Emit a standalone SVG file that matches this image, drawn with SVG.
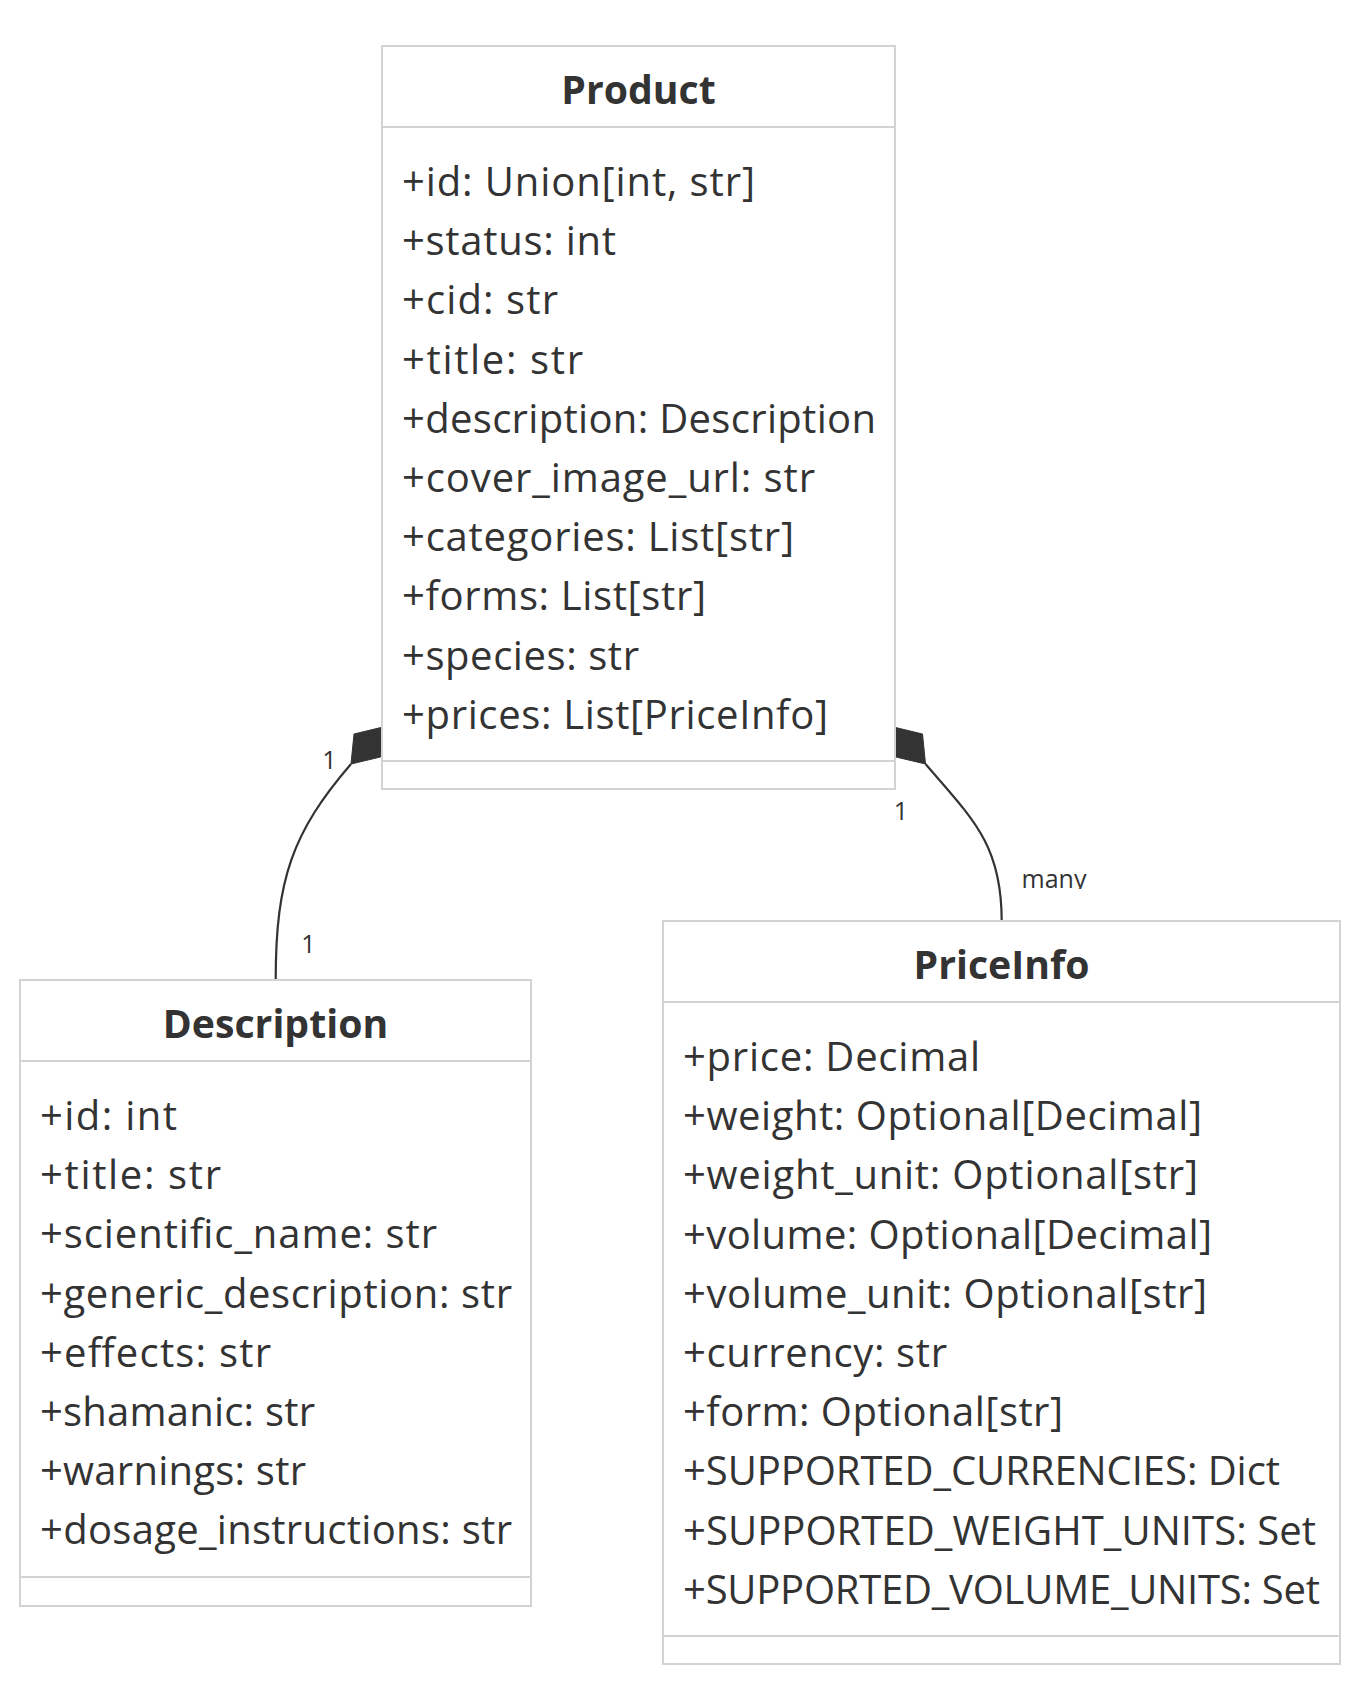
<svg xmlns="http://www.w3.org/2000/svg" width="1360" height="1688" viewBox="0 0 1360 1688">
  <style>
    .box { fill: #ffffff; stroke: #d3d3d3; stroke-width: 2; }
    .sep { stroke: #d3d3d3; stroke-width: 2; }
    .title { font-family: "Open Sans", "Noto Sans", sans-serif; font-weight: 700; font-size: 39.2px; fill: #333333; text-anchor: middle; }
    .attr { font-family: "Open Sans", "Noto Sans", sans-serif; font-size: 40px; fill: #333333; }
    .edge { fill: none; stroke: #333333; stroke-width: 2.2; }
    .diamond { fill: #333333; stroke: #333333; stroke-width: 1; }
    .mult { font-family: "Open Sans", "Noto Sans", sans-serif; font-size: 25px; fill: #333333; text-anchor: middle; }
  </style>
  <defs>
    <clipPath id="many-clip">
      <rect x="1000" y="850" width="120" height="39"/>
    </clipPath>
  </defs>
  <rect width="1360" height="1688" fill="#ffffff"/>

  <!-- composition links (drawn first so the class boxes sit on top) -->
  <g id="connectors">
    <g id="link-product-description">
      <polygon class="diamond" points="351,764 354,734 383,727 380.5,757"/>
      <path class="edge" d="M351,764 C292.5,832 275.7,879 275.7,980"/>
      <text class="mult" x="329.5" y="769">1</text>
      <text class="mult" x="308.5" y="953">1</text>
    </g>
    <g id="link-product-priceinfo">
      <polygon class="diamond" points="925.5,764 922.5,734 893.5,727 896,757"/>
      <path class="edge" d="M925.5,764 C974.5,820.6 1001.7,846 1001.7,921"/>
      <text class="mult" x="901" y="820">1</text>
      <text class="mult" x="1054" y="888" font-size="26" clip-path="url(#many-clip)">many</text>
    </g>
  </g>

  <g id="Product">
    <rect class="box" x="382" y="46" width="513" height="743"/>
    <line class="sep" x1="382" y1="127" x2="895" y2="127"/>
    <line class="sep" x1="382" y1="761" x2="895" y2="761"/>
    <text class="title" x="638.5" y="104">Product</text>
    <text class="attr" x="402" y="196" textLength="353">+id: Union[int, str]</text>
    <text class="attr" x="402" y="255.2" textLength="214">+status: int</text>
    <text class="attr" x="402" y="314.4" textLength="156">+cid: str</text>
    <text class="attr" x="402" y="373.6" textLength="181">+title: str</text>
    <text class="attr" x="402" y="432.8" textLength="474">+description: Description</text>
    <text class="attr" x="402" y="492" textLength="413">+cover_image_url: str</text>
    <text class="attr" x="402" y="551.2" textLength="392">+categories: List[str]</text>
    <text class="attr" x="402" y="610.4" textLength="304">+forms: List[str]</text>
    <text class="attr" x="402" y="669.6" textLength="237">+species: str</text>
    <text class="attr" x="402" y="728.8" textLength="426">+prices: List[PriceInfo]</text>
  </g>

  <g id="Description">
    <rect class="box" x="20" y="980" width="511" height="626"/>
    <line class="sep" x1="20" y1="1061" x2="531" y2="1061"/>
    <line class="sep" x1="20" y1="1577" x2="531" y2="1577"/>
    <text class="title" x="275.5" y="1038">Description</text>
    <text class="attr" x="40" y="1130" textLength="137">+id: int</text>
    <text class="attr" x="40" y="1189.2" textLength="181">+title: str</text>
    <text class="attr" x="40" y="1248.4" textLength="397">+scientific_name: str</text>
    <text class="attr" x="40" y="1307.6" textLength="472">+generic_description: str</text>
    <text class="attr" x="40" y="1366.8" textLength="231">+effects: str</text>
    <text class="attr" x="40" y="1426" textLength="275">+shamanic: str</text>
    <text class="attr" x="40" y="1485.2" textLength="266">+warnings: str</text>
    <text class="attr" x="40" y="1544.4" textLength="472">+dosage_instructions: str</text>
  </g>

  <g id="PriceInfo">
    <rect class="box" x="663" y="921" width="677" height="743"/>
    <line class="sep" x1="663" y1="1002" x2="1340" y2="1002"/>
    <line class="sep" x1="663" y1="1636" x2="1340" y2="1636"/>
    <text class="title" x="1001.5" y="979">PriceInfo</text>
    <text class="attr" x="683" y="1071" textLength="297">+price: Decimal</text>
    <text class="attr" x="683" y="1130.2" textLength="519">+weight: Optional[Decimal]</text>
    <text class="attr" x="683" y="1189.4" textLength="515">+weight_unit: Optional[str]</text>
    <text class="attr" x="683" y="1248.6" textLength="529">+volume: Optional[Decimal]</text>
    <text class="attr" x="683" y="1307.8" textLength="524">+volume_unit: Optional[str]</text>
    <text class="attr" x="683" y="1367" textLength="264">+currency: str</text>
    <text class="attr" x="683" y="1426.2" textLength="380">+form: Optional[str]</text>
    <text class="attr" x="683" y="1485.4" textLength="597">+SUPPORTED_CURRENCIES: Dict</text>
    <text class="attr" x="683" y="1544.6" textLength="633">+SUPPORTED_WEIGHT_UNITS: Set</text>
    <text class="attr" x="683" y="1603.8" textLength="637">+SUPPORTED_VOLUME_UNITS: Set</text>
  </g>
</svg>
